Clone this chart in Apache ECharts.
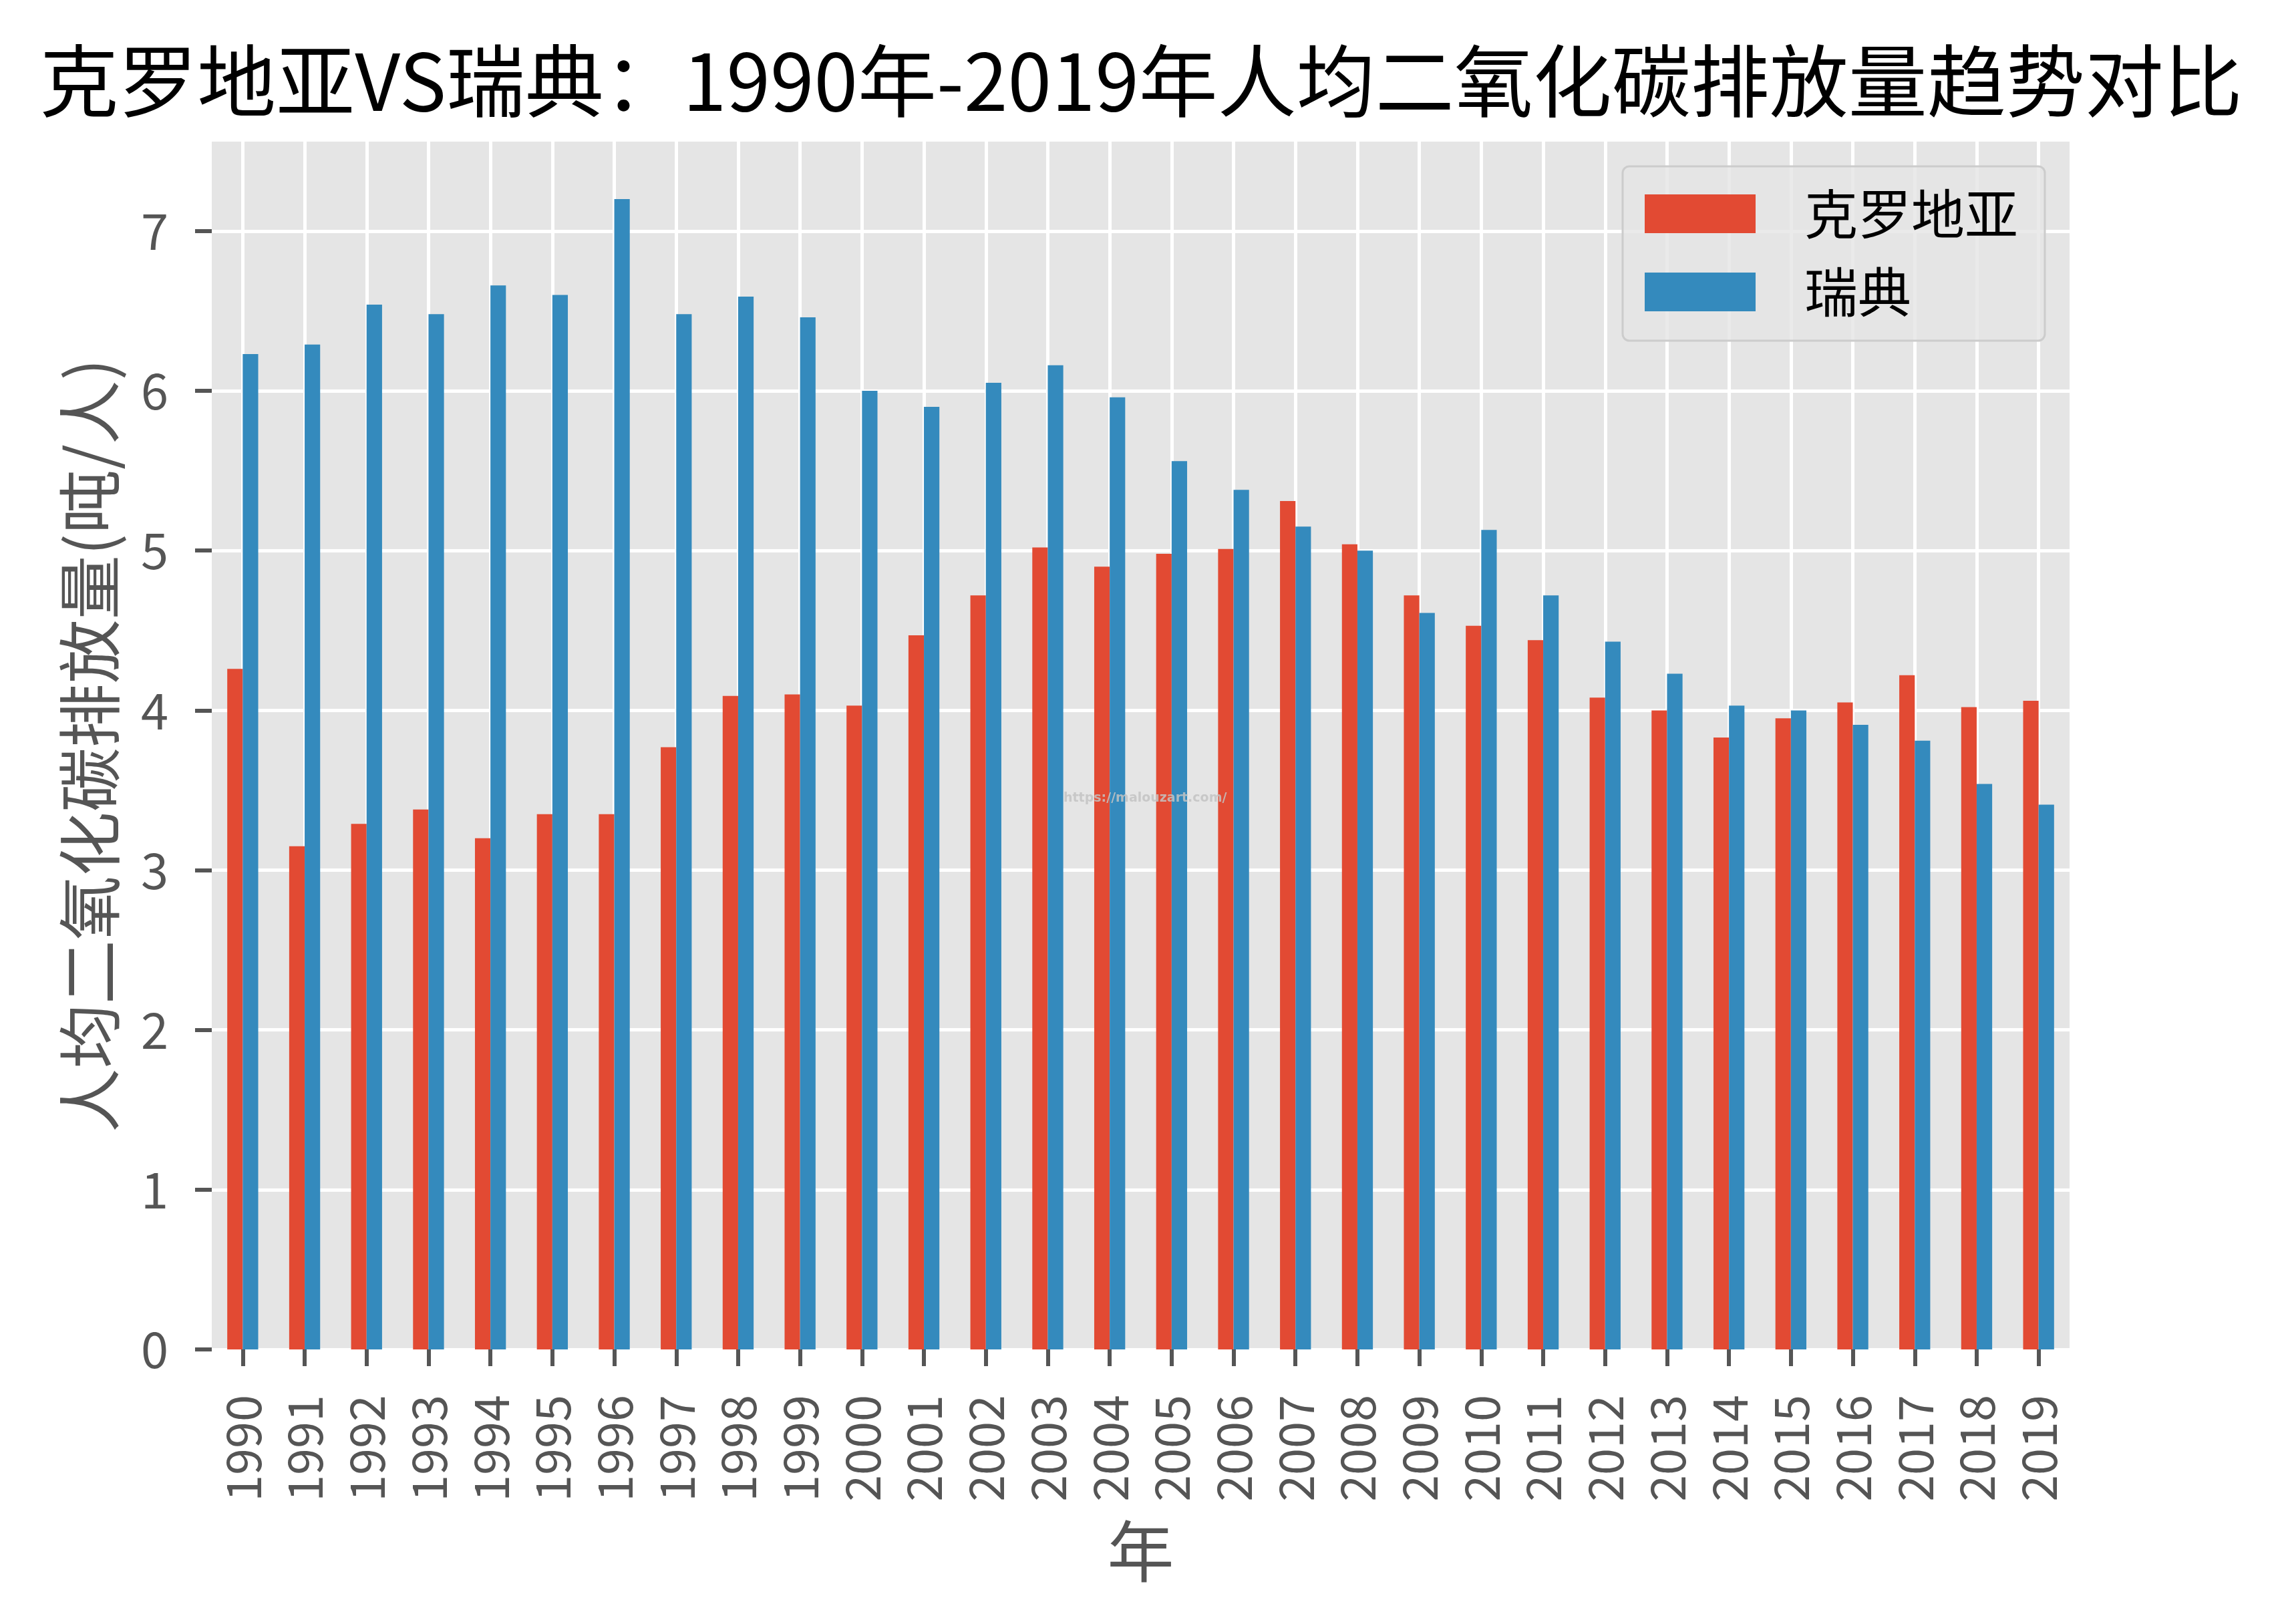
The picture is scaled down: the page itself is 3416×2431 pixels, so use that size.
<!DOCTYPE html>
<html>
<head>
<meta charset="utf-8">
<script src="https://cdn.jsdelivr.net/npm/echarts@6/dist/echarts.min.js"></script>
<style>
html,body{margin:0;padding:0;background:#fff;}
#chart{width:3416px;height:2431px;}
</style>
</head>
<body>
<div id="chart"></div>
<script>
const years = ['1990','1991','1992','1993','1994','1995','1996','1997','1998','1999','2000','2001','2002','2003','2004','2005','2006','2007','2008','2009','2010','2011','2012','2013','2014','2015','2016','2017','2018','2019'];
const croatia = [4.26, 3.15, 3.29, 3.38, 3.20, 3.35, 3.35, 3.77, 4.09, 4.10, 4.03, 4.47, 4.72, 5.02, 4.90, 4.98, 5.01, 5.31, 5.04, 4.72, 4.53, 4.44, 4.08, 4.00, 3.83, 3.95, 4.05, 4.22, 4.02, 4.06];
const sweden = [6.23, 6.29, 6.54, 6.48, 6.66, 6.60, 7.20, 6.48, 6.59, 6.46, 6.00, 5.90, 6.05, 6.16, 5.96, 5.56, 5.38, 5.15, 5.00, 4.61, 5.13, 4.72, 4.43, 4.23, 4.03, 4.00, 3.91, 3.81, 3.54, 3.41];
const yTicks = [0, 1, 2, 3, 4, 5, 6, 7];
const seriesNames = ['克罗地亚', '瑞典'];
const titleText = '克罗地亚VS瑞典：1990年-2019年人均二氧化碳排放量趋势对比';
const xName = '年';
const yName = '人均二氧化碳排放量(吨/人)';

const FONT = 'Noto Sans CJK SC';
const chart = echarts.init(document.getElementById('chart'), null, {renderer: 'canvas'});
chart.setOption({
  backgroundColor: '#ffffff',
  animation: false,
  textStyle: {fontFamily: FONT},
  title: {
    text: titleText,
    left: 'center',
    top: 50,
    textStyle: {fontFamily: FONT, fontSize: 118, fontWeight: 'normal', color: '#000', lineHeight: 132}
  },
  legend: {
    orient: 'vertical',
    left: 2429,
    top: 249,
    padding: [31, 40, 33, 33],
    itemWidth: 166,
    itemHeight: 58,
    itemGap: 37,
    icon: 'rect',
    backgroundColor: 'rgba(229,229,229,0.8)',
    borderColor: '#cccccc',
    borderWidth: 3,
    borderRadius: 10,
    formatter: '{a|{name}}',
    textStyle: {
      fontFamily: FONT, fontSize: 80, color: '#000', lineHeight: 80,
      rich: {a: {fontFamily: FONT, fontSize: 80, color: '#000', lineHeight: 80, padding: [0, 0, 0, 68]}}
    },
    data: seriesNames
  },
  grid: {left: 317, right: 318, top: 212, bottom: 411, containLabel: false, show: true, backgroundColor: '#E5E5E5', borderWidth: 0},
  xAxis: {
    type: 'category',
    data: years,
    boundaryGap: true,
    name: xName,
    nameLocation: 'middle',
    nameGap: 252,
    nameTextStyle: {fontFamily: FONT, fontSize: 100, color: '#555555'},
    axisLine: {show: false},
    axisTick: {show: true, alignWithLabel: true, length: 25, inside: false, lineStyle: {color: '#555555', width: 6}},
    axisLabel: {rotate: 90, margin: 68, fontFamily: FONT, fontSize: 72, color: '#555555', interval: 0},
    splitLine: {show: true, alignWithLabel: true, interval: 0, lineStyle: {color: '#ffffff', width: 5}}
  },
  yAxis: {
    type: 'value',
    min: 0,
    max: 7.56,
    interval: 1,
    name: yName,
    nameLocation: 'middle',
    nameGap: 135,
    nameRotate: 90,
    nameTextStyle: {fontFamily: FONT, fontSize: 96, color: '#555555'},
    axisLine: {show: false},
    axisTick: {show: true, length: 25, customValues: yTicks, lineStyle: {color: '#555555', width: 6}},
    axisLabel: {margin: 65, fontFamily: FONT, fontSize: 74, color: '#555555', customValues: yTicks},
    splitLine: {show: true, lineStyle: {color: '#ffffff', width: 5}}
  },
  graphic: [{
    type: 'text',
    left: 1708 - 116,
    top: 1186,
    z: 100,
    style: {text: 'https://malouzart.com/', fontFamily: 'DejaVu Sans', fontWeight: 'bold', fontSize: 19, fill: 'rgba(195,195,195,0.85)'}
  }],
  series: [
    {name: seriesNames[0], type: 'bar', data: croatia, barWidth: '25%', barGap: '0%', itemStyle: {color: '#E24A33'}},
    {name: seriesNames[1], type: 'bar', data: sweden, barWidth: '25%', barGap: '0%', itemStyle: {color: '#348ABD'}}
  ]
});
</script>
</body>
</html>
